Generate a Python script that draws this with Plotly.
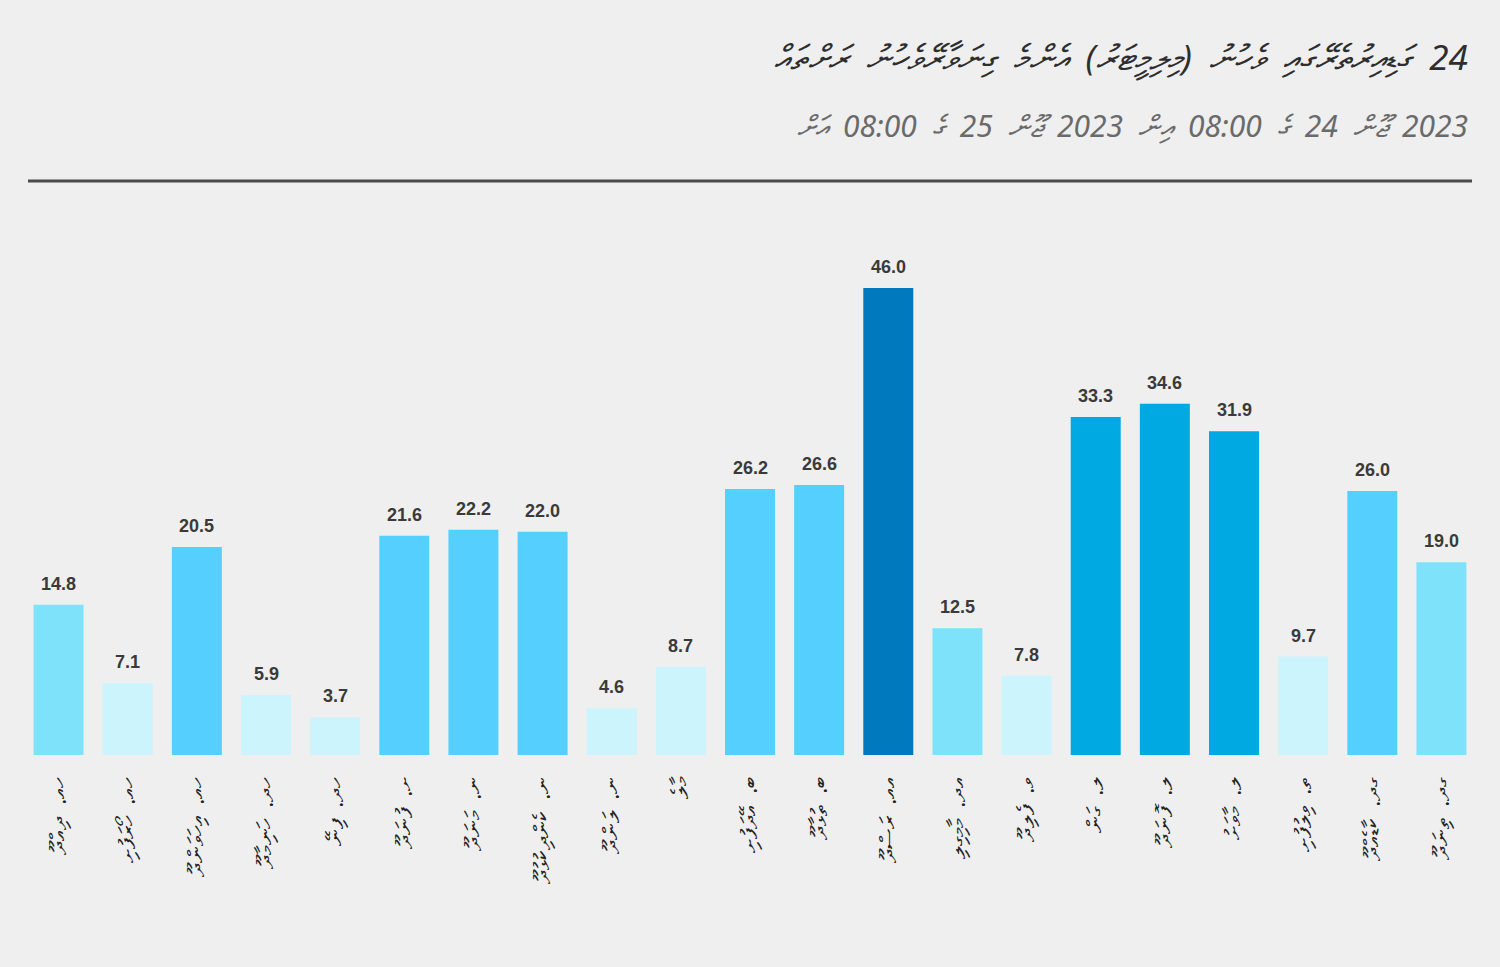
import plotly.graph_objects as go

RLE, PDF = "\u202B", "\u202C"
SP = "\u2002"

stations = [
    "ހއ. ދިއްދޫ", "ހއ. ހޯރަފުށި", "ހއ. އިހަވަންދޫ", "ހދ. ހަނިމާދޫ", "ހދ. ފިނޭ",
    "ށ. ފުނަދޫ", "ނ. މަނަދޫ", "ނ. ކެންދިކުޅުދޫ", "ނ. ލަންދޫ", "މާލެ",
    "ބ. އޭދަފުށި", "ބ. ތުޅާދޫ", "އއ. ރަސްދޫ", "އދ. މާމިގިލި", "ވ. ފެލިދޫ",
    "ލ. ގަން", "ލ. ފޮނަދޫ", "ލ. މާވަށު", "ތ. ވިލުފުށި", "ގދ. ކާޑެއްދޫ", "ގދ. ތިނަދޫ",
]
rainfall_mm = [14.8, 7.1, 20.5, 5.9, 3.7, 21.6, 22.2, 22.0, 4.6, 8.7,
               26.2, 26.6, 46.0, 12.5, 7.8, 33.3, 34.6, 31.9, 9.7, 26.0, 19.0]

title_words = ["24", "ގަޑިއިރުތެރޭގައި", "ވެހުނު", "(މިލިމީޓަރު)", "އެންމެ", "ގިނަވާރޭވެހުނު", "ރަށްތައް"]
subtitle_words = ["2023", "ޖޫން", "24", "ގެ", "08:00", "އިން", "2023", "ޖޫން", "25", "ގެ", "08:00", "އަށް"]


def bar_colour(v):
    if v >= 40:
        return "#0079be"
    if v >= 30:
        return "#00a9e1"
    if v >= 20:
        return "#55cffd"
    if v >= 10:
        return "#7fe2fb"
    return "#ccf4fc"


labels = [RLE + s.replace(" ", SP) + PDF for s in stations]
colours = [bar_colour(v) for v in rainfall_mm]

fig = go.Figure(go.Bar(
    x=labels, y=rainfall_mm, marker=dict(color=colours, line=dict(width=0)),
    hoverinfo="x+y",
))

for lab, v in zip(labels, rainfall_mm):
    fig.add_annotation(x=lab, y=v, text=f"<b>{v:.1f}</b>", showarrow=False,
                       yanchor="bottom", yshift=9,
                       font=dict(family="Liberation Sans, Arial", size=18, color="#3a3a3a"))

BG = "#efefef"
L, R, T, B = 24, 24, 200, 212
W, H = 1500, 967
pw, ph = W - L - R, H - T - B

def px_x(x):
    return (x - L) / pw

def px_y(y):
    return (H - B - y) / ph

fig.add_annotation(xref="paper", yref="paper", x=px_x(1470), y=px_y(57),
                   xanchor="right", yanchor="middle", showarrow=False,
                   text=RLE + SP.join(title_words) + PDF,
                   font=dict(family="Noto Sans, DejaVu Sans", size=35, color="#2e2e2e", style="italic"))
fig.add_annotation(xref="paper", yref="paper", x=px_x(1470), y=px_y(125),
                   xanchor="right", yanchor="middle", showarrow=False,
                   text=RLE + SP.join(subtitle_words) + PDF,
                   font=dict(family="Noto Sans, DejaVu Sans", size=30, color="#6a6a6a", style="italic"))
fig.add_shape(type="line", xref="paper", yref="paper",
              x0=px_x(28), x1=px_x(1472), y0=px_y(181), y1=px_y(181),
              line=dict(color="#4a4a4a", width=3))

fig.update_layout(
    width=W, height=H, margin=dict(l=L, r=R, t=T, b=B),
    paper_bgcolor=BG, plot_bgcolor=BG, showlegend=False, bargap=0.277,
    xaxis=dict(tickangle=-90, showgrid=False, showline=False, zeroline=False, ticks="",
               ticklabelstandoff=16,
               tickfont=dict(family="Noto Sans, DejaVu Sans", size=23, color="#222")),
    yaxis=dict(visible=False, range=[0, 555 / 10.15], showgrid=False, zeroline=False),
)

fig.write_html("out.html")
